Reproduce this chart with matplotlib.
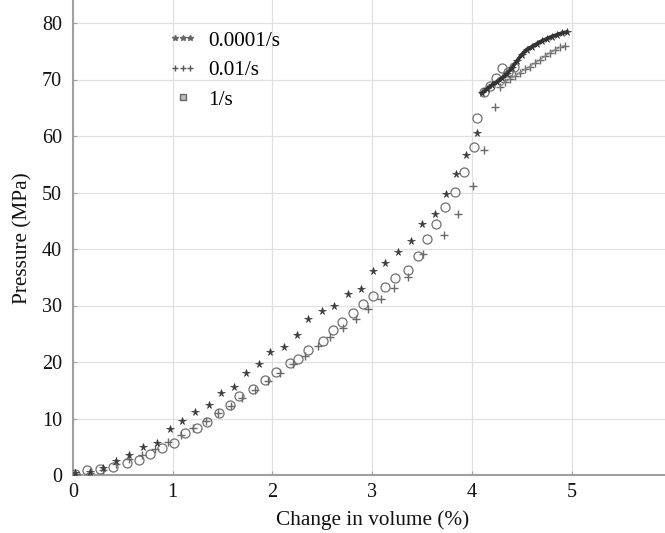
import matplotlib
matplotlib.use("Agg")
import matplotlib.pyplot as plt
from matplotlib.lines import Line2D
from matplotlib.legend_handler import HandlerLine2D

plt.rcParams['font.family'] = ['Liberation Serif', 'DejaVu Serif']

# 0.0001/s (asterisk markers)
x_slow = [0.02, 0.17, 0.30, 0.43, 0.565, 0.705, 0.84, 0.97, 1.09, 1.22, 1.36, 1.48, 1.61,
          1.74, 1.87, 1.98, 2.12, 2.25, 2.36, 2.50, 2.62, 2.76, 2.89, 3.01, 3.13, 3.26,
          3.39, 3.50, 3.63, 3.74, 3.84, 3.94, 4.05,
          4.10, 4.15, 4.20, 4.25, 4.30, 4.35, 4.40, 4.45, 4.50, 4.55, 4.60, 4.65, 4.70,
          4.75, 4.80, 4.85, 4.90, 4.95]
y_slow = [0.3, 0.5, 1.3, 2.4, 3.5, 4.9, 5.6, 8.1, 9.6, 11.1, 12.4, 14.6, 15.5,
          18.1, 19.6, 21.7, 22.7, 24.8, 27.6, 29.1, 29.9, 32.0, 33.0, 36.1, 37.6, 39.4,
          41.5, 44.4, 46.2, 49.7, 53.2, 56.7, 60.6,
          67.6, 68.3, 69.0, 69.6, 70.2, 71.0, 72.0, 73.2, 74.4, 75.3, 75.8, 76.3, 76.8,
          77.2, 77.6, 77.9, 78.2, 78.4]

# 0.01/s (plus markers)
x_mid = [0.02, 0.17, 0.30, 0.43, 0.56, 0.69, 0.82, 0.95, 1.08, 1.20, 1.33, 1.45, 1.58,
         1.70, 1.83, 1.96, 2.08, 2.21, 2.33, 2.46, 2.58, 2.71, 2.84, 2.96, 3.09, 3.22,
         3.36, 3.51, 3.72, 3.86, 4.01, 4.12, 4.23,
         4.28, 4.33, 4.38, 4.43, 4.48, 4.53, 4.58, 4.63, 4.68, 4.73, 4.78, 4.83, 4.88, 4.93]
y_mid = [0.1, 0.3, 0.9, 1.9, 2.9, 3.6, 4.6, 5.9, 7.0, 8.4, 9.6, 11.0, 12.3,
         13.7, 15.0, 16.6, 18.0, 19.6, 21.0, 22.8, 24.4, 26.0, 27.6, 29.3, 31.2, 33.1,
         35.1, 39.1, 42.5, 46.2, 51.2, 57.6, 65.2,
         68.6, 69.5, 70.1, 70.6, 71.2, 71.8, 72.3, 72.9, 73.5, 74.1, 74.7, 75.2, 75.7, 76.0]

# 1/s (circle markers)
x_fast = [0.02, 0.14, 0.27, 0.40, 0.54, 0.66, 0.77, 0.89, 1.01, 1.12, 1.24, 1.34, 1.46,
          1.57, 1.67, 1.81, 1.93, 2.04, 2.18, 2.26, 2.36, 2.51, 2.61, 2.70, 2.81, 2.91,
          3.01, 3.13, 3.23, 3.36, 3.46, 3.55, 3.64, 3.73, 3.83, 3.92, 4.02, 4.05,
          4.12, 4.18, 4.24, 4.30, 4.36, 4.42]
y_fast = [0.2, 0.9, 1.1, 1.5, 2.1, 2.7, 3.8, 4.7, 5.7, 7.4, 8.3, 9.4, 10.9,
          12.4, 13.9, 15.3, 16.8, 18.3, 19.8, 20.6, 22.1, 23.8, 25.7, 27.1, 28.6, 30.3,
          31.6, 33.2, 34.8, 36.3, 38.8, 41.7, 44.5, 47.5, 50.1, 53.7, 58.1, 63.1,
          67.8, 68.8, 70.2, 72.0, 71.4, 72.2]

labels = ['0.0001/s', '0.01/s', '1/s']
x_ticks = [0, 1, 2, 3, 4, 5, 6]
y_ticks = [0, 10, 20, 30, 40, 50, 60, 70, 80]

# index where each series becomes a dense trace
dense_slow = 33
dense_mid = 33

W, H = 665, 533
fig = plt.figure(figsize=(W / 100, H / 100), dpi=100)
ax = fig.add_axes([73 / W, 58 / H, 6 * 99.7 / W, 84 * 5.65 / H])

ax.plot(x_fast, y_fast, ls='none', marker='o', ms=6.5, mfc='none', mec='#707070', mew=0.9, zorder=3)
ax.plot(x_mid, y_mid, ls='none', marker='+', ms=6, mec='#6a6a6a', mew=1.0, zorder=3)
ax.plot(x_mid[dense_mid:], y_mid[dense_mid:], ls='-', lw=1.0, color='#8a8a8a', zorder=3)
ax.plot(x_slow, y_slow, ls='none', marker='*', ms=5.5, mfc='#3a3a3a', mec='#3a3a3a', mew=0.5, zorder=4)
ax.plot(x_slow[dense_slow:], y_slow[dense_slow:], ls='-', lw=2.6, color='#333333', zorder=4)

ax.set_xlim(0, 6)
ax.set_ylim(0, 84)
ax.set_xticks(x_ticks)
ax.set_yticks(y_ticks)
ax.grid(True, color='#e0e0e0', lw=0.9)
ax.set_axisbelow(True)
for s in ['top', 'right']:
    ax.spines[s].set_visible(False)
for s in ['left', 'bottom']:
    ax.spines[s].set_color('#a0a0a0')
    ax.spines[s].set_linewidth(1.5)
ax.tick_params(direction='in', length=3, color='#a0a0a0', labelsize=14.5, labelcolor='#111111')
ax.tick_params(axis='y', pad=8)
ax.tick_params(axis='x', pad=6)

ax.set_xlabel('Change in volume (%)', fontsize=15.3, color='#111111', labelpad=6)
ax.set_ylabel('Pressure (MPa)', fontsize=15.3, color='#111111', labelpad=7)

h1 = Line2D([], [], ls='none', marker='*', ms=4, color='#666666')
h2 = Line2D([], [], ls='none', marker='+', ms=5, color='#555555', mew=1.0)
h3 = Line2D([], [], ls='none', marker='s', ms=4, mfc='#bbbbbb', mec='#666666', mew=1.0)
fig.legend([h1, h2, h3], labels, loc='upper left', bbox_to_anchor=(169 / W, 1 - 31 / H),
           frameon=False, numpoints=3, handlelength=1.3, handletextpad=0.55,
           labelspacing=0.45, borderpad=0, borderaxespad=0, fontsize=15.3,
           handler_map={h3: HandlerLine2D(numpoints=1)})

fig.savefig('out.png', dpi=100)
